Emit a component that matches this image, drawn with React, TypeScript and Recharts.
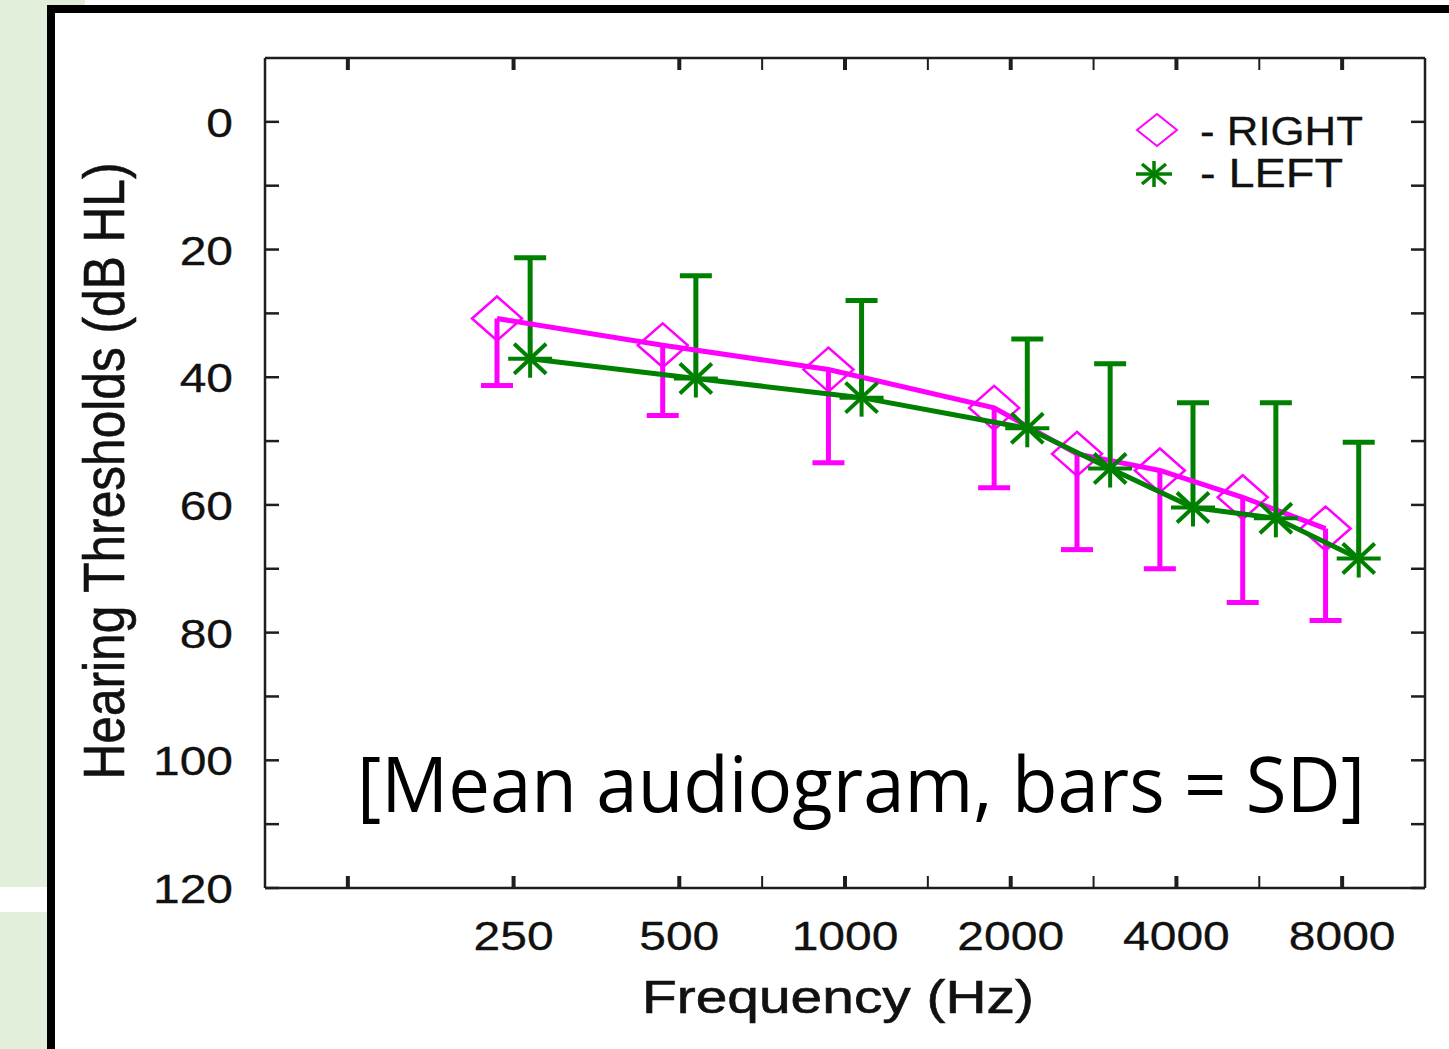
import React from 'react';
import { ScatterChart, Scatter, XAxis, YAxis, ErrorBar, Legend } from 'recharts';

// ---- data ----
const frequencies = ['250', '500', '1000', '2000', '3000', '4000', '6000', '8000'];
// position of each measured frequency on the audiogram's octave axis (0 = 125 Hz)
const octavePositions = [1, 2, 3, 4, 4.5, 5, 5.5, 6];
const rightMean = [30.8, 35.0, 38.8, 44.8, 52.0, 54.6, 58.8, 63.7];
const rightSD = [10.5, 11.0, 14.6, 12.5, 15.0, 15.4, 16.5, 14.4];
const leftMean = [37.1, 40.2, 43.2, 48.0, 54.3, 60.4, 62.1, 68.4];
const leftSD = [15.8, 16.1, 15.2, 14.0, 16.4, 16.4, 18.1, 18.2];

const xMajorTicks = [0, 1, 2, 3, 4, 5, 6];
const xTickLabels = ['', '250', '500', '1000', '2000', '4000', '8000'];
const xMinorTicks = [2.5, 3.5, 4.5, 5.5];
const yTicks = [0, 10, 20, 30, 40, 50, 60, 70, 80, 90, 100, 110, 120];
const yLabelTicks = [0, 20, 40, 60, 80, 100, 120];

const seriesNames = ['RIGHT', 'LEFT'];

// ---- styling ----
const MAGENTA = '#ff00ff';
const GREEN = '#008000';
const AXIS = '#1e1e1e';
const FONT = '"Liberation Sans", Arial, Helvetica, sans-serif';
const DODGE = 0.1; // horizontal offset of the two ears around each frequency
const STRETCH = 1.17;
const LINE_W = 5;

const xAllTicks = [...xMajorTicks, ...xMinorTicks].sort((a, b) => a - b);

const rightData = frequencies.map((f, i) => ({
  freq: f,
  x: octavePositions[i] - DODGE,
  y: rightMean[i],
  err: [0, rightSD[i]],
}));
const rightCaps = frequencies.map((f, i) => ({
  freq: f,
  x: octavePositions[i] - DODGE,
  y: rightMean[i] + rightSD[i],
}));
const leftData = frequencies.map((f, i) => ({
  freq: f,
  x: octavePositions[i] + DODGE,
  y: leftMean[i],
  err: [leftSD[i], 0],
}));
const leftCaps = frequencies.map((f, i) => ({
  freq: f,
  x: octavePositions[i] + DODGE,
  y: leftMean[i] - leftSD[i],
}));

const Diamond = (props: any) => {
  const { cx, cy } = props;
  const hw = 25;
  const hh = 22;
  return (
    <polygon
      points={`${cx - hw},${cy} ${cx},${cy - hh} ${cx + hw},${cy} ${cx},${cy + hh}`}
      fill="none"
      stroke={MAGENTA}
      strokeWidth={2.5}
    />
  );
};

const Star = (props: any) => {
  const { cx, cy } = props;
  const a = 22;
  const v = 19;
  const dx = 16;
  const dy = 15;
  return (
    <g stroke={GREEN} strokeWidth={4}>
      <line x1={cx - a} y1={cy} x2={cx + a} y2={cy} />
      <line x1={cx} y1={cy - v} x2={cx} y2={cy + v} />
      <line x1={cx - dx} y1={cy - dy} x2={cx + dx} y2={cy + dy} />
      <line x1={cx - dx} y1={cy + dy} x2={cx + dx} y2={cy - dy} />
    </g>
  );
};

const capShape = (color: string) => (props: any) => {
  const { cx, cy } = props;
  return <line x1={cx - 16} y1={cy} x2={cx + 16} y2={cy} stroke={color} strokeWidth={LINE_W} />;
};

const LeftTick = (props: any) => {
  const { x, y, payload } = props;
  const v = payload.value;
  const labelled = yLabelTicks.includes(v);
  return (
    <g>
      <line x1={x} x2={x + 14} y1={y} y2={y} stroke={AXIS} strokeWidth={2.5} />
      {labelled && (
        <text
          x={0}
          y={0}
          transform={`translate(${x - 32},${y + 15}) scale(${STRETCH},1)`}
          textAnchor="end"
          fontSize={41}
          fontFamily={FONT}
          fill="#111"
          stroke="#111"
          strokeWidth={0.3}
        >
          {v}
        </text>
      )}
    </g>
  );
};

const RightTick = (props: any) => {
  const { x, y } = props;
  return <line x1={x} x2={x - 14} y1={y} y2={y} stroke={AXIS} strokeWidth={2.5} />;
};

const BottomTick = (props: any) => {
  const { x, y, payload } = props;
  const v = payload.value;
  const idx = xMajorTicks.indexOf(v);
  const major = idx >= 0;
  const label = major ? xTickLabels[idx] : '';
  return (
    <g>
      <line x1={x} x2={x} y1={y} y2={y - 12} stroke={AXIS} strokeWidth={major ? 4 : 2} />
      {label && (
        <text
          x={0}
          y={0}
          transform={`translate(${x},${y + 62}) scale(${STRETCH},1)`}
          textAnchor="middle"
          fontSize={41}
          fontFamily={FONT}
          fill="#111"
          stroke="#111"
          strokeWidth={0.3}
        >
          {label}
        </text>
      )}
    </g>
  );
};

const TopTick = (props: any) => {
  const { x, y, payload } = props;
  const major = xMajorTicks.includes(payload.value);
  return <line x1={x} x2={x} y1={y} y2={y + 12} stroke={AXIS} strokeWidth={major ? 4 : 2} />;
};

const LegendContent = (props: any) => {
  const payload = (props.payload || [])
    .filter((p: any) => seriesNames.includes(p.value))
    .sort((a: any, b: any) => seriesNames.indexOf(a.value) - seriesNames.indexOf(b.value));
  return (
    <svg width={280} height={110} style={{ display: 'block' }}>
      {payload.map((p: any, i: number) => {
        const isRight = p.value === 'RIGHT';
        const cy = i === 0 ? 35 : 79;
        return (
          <g key={p.value}>
            {isRight ? (
              <polygon
                points={`${27},${cy} ${47},${cy - 16} ${67},${cy} ${47},${cy + 16}`}
                fill="none"
                stroke={MAGENTA}
                strokeWidth={2}
              />
            ) : (
              <g stroke={GREEN} strokeWidth={3.5}>
                <line x1={26} y1={cy} x2={62} y2={cy} />
                <line x1={44} y1={cy - 13} x2={44} y2={cy + 13} />
                <line x1={32} y1={cy - 10} x2={56} y2={cy + 10} />
                <line x1={32} y1={cy + 10} x2={56} y2={cy - 10} />
              </g>
            )}
            <text
              x={90}
              y={i === 0 ? 50 : 92}
              fontSize={40}
              fontFamily={FONT}
              fill="#111"
              stroke="#111"
              strokeWidth={0.3}
              textLength={isRight ? 163 : 143}
              lengthAdjust="spacingAndGlyphs"
            >
              {`- ${p.value}`}
            </text>
          </g>
        );
      })}
    </svg>
  );
};

export default function App() {
  return (
    <div
      style={{
        position: 'absolute',
        left: 0,
        top: 0,
        width: 1449,
        height: 1049,
        background: '#ffffff',
        overflow: 'hidden',
      }}
    >
      {/* slide background pieces */}
      <div style={{ position: 'absolute', left: 0, top: 0, width: 47, height: 1049, background: '#e2efda' }} />
      <div style={{ position: 'absolute', left: 0, top: 887, width: 47, height: 25, background: '#ffffff' }} />
      <div style={{ position: 'absolute', left: 0, top: 0, width: 85, height: 5, background: '#e2efda' }} />
      <div style={{ position: 'absolute', left: 47, top: 5, width: 8, height: 1044, background: '#000' }} />
      <div style={{ position: 'absolute', left: 47, top: 5, width: 1402, height: 8, background: '#000' }} />

      <div style={{ position: 'absolute', left: 0, top: 0 }}>
        <ScatterChart width={1449} height={1049} margin={{ top: 57, right: 23, bottom: 41, left: 65 }}>
          <XAxis
            xAxisId="b"
            dataKey="x"
            type="number"
            domain={[-0.5, 6.5]}
            ticks={xAllTicks}
            interval={0}
            height={120}
            tickSize={0}
            tickMargin={0}
            tickLine={false}
            axisLine={{ stroke: AXIS, strokeWidth: 2.5 }}
            tick={<BottomTick />}
            allowDataOverflow
          />
          <XAxis
            xAxisId="t"
            orientation="top"
            dataKey="x"
            type="number"
            domain={[-0.5, 6.5]}
            ticks={xAllTicks}
            interval={0}
            height={1}
            tickSize={0}
            tickMargin={0}
            tickLine={false}
            axisLine={{ stroke: AXIS, strokeWidth: 2.5 }}
            tick={<TopTick />}
            allowDataOverflow
          />
          <YAxis
            yAxisId="l"
            dataKey="y"
            type="number"
            domain={[-10, 120]}
            reversed
            ticks={yTicks}
            interval={0}
            width={200}
            tickSize={0}
            tickMargin={0}
            tickLine={false}
            axisLine={{ stroke: AXIS, strokeWidth: 2.5 }}
            tick={<LeftTick />}
            allowDataOverflow
          />
          <YAxis
            yAxisId="r"
            orientation="right"
            dataKey="y"
            type="number"
            domain={[-10, 120]}
            reversed
            ticks={yTicks}
            interval={0}
            width={1}
            tickSize={0}
            tickMargin={0}
            tickLine={false}
            axisLine={{ stroke: AXIS, strokeWidth: 2.5 }}
            tick={<RightTick />}
            allowDataOverflow
          />

          <Scatter
            name="RIGHT"
            data={rightData}
            xAxisId="b"
            yAxisId="l"
            line={{ stroke: MAGENTA, strokeWidth: LINE_W }}
            shape={(p: any) => <Diamond {...p} />}
            isAnimationActive={false}
          >
            <ErrorBar dataKey="err" direction="y" width={0} stroke={MAGENTA} strokeWidth={LINE_W} isAnimationActive={false} />
          </Scatter>
          <Scatter
            name="RIGHT-cap"
            data={rightCaps}
            xAxisId="b"
            yAxisId="l"
            legendType="none"
            shape={capShape(MAGENTA)}
            isAnimationActive={false}
          />
          <Scatter
            name="LEFT"
            data={leftData}
            xAxisId="b"
            yAxisId="l"
            line={{ stroke: GREEN, strokeWidth: LINE_W }}
            shape={(p: any) => <Star {...p} />}
            isAnimationActive={false}
          >
            <ErrorBar dataKey="err" direction="y" width={0} stroke={GREEN} strokeWidth={LINE_W} isAnimationActive={false} />
          </Scatter>
          <Scatter
            name="LEFT-cap"
            data={leftCaps}
            xAxisId="b"
            yAxisId="l"
            legendType="none"
            shape={capShape(GREEN)}
            isAnimationActive={false}
          />

          <Legend
            content={<LegendContent />}
            layout="horizontal"
            verticalAlign="middle"
            align="center"
            wrapperStyle={{ left: 1110, top: 95, width: 280, height: 110 }}
          />
        </ScatterChart>
      </div>

      {/* titles and annotation */}
      <svg
        width={1449}
        height={1049}
        style={{ position: 'absolute', left: 0, top: 0, pointerEvents: 'none' }}
      >
        <text
          transform="translate(124,471) rotate(-90)"
          textAnchor="middle"
          fontSize={58}
          fontFamily={FONT}
          fill="#111"
          stroke="#111"
          strokeWidth={0.6}
          textLength={617}
          lengthAdjust="spacingAndGlyphs"
        >
          Hearing Thresholds (dB HL)
        </text>
        <text
          x={838}
          y={1013}
          textAnchor="middle"
          fontSize={46}
          fontFamily={FONT}
          fill="#111"
          stroke="#111"
          strokeWidth={0.6}
          textLength={392}
          lengthAdjust="spacingAndGlyphs"
        >
          Frequency (Hz)
        </text>
        <text
          x={357}
          y={812}
          fontSize={76}
          fontFamily='"Open Sans", "Noto Sans", sans-serif'
          fill="#000"
          textLength={1008}
          lengthAdjust="spacingAndGlyphs"
        >
          [Mean audiogram, bars = SD]
        </text>
      </svg>
    </div>
  );
}
